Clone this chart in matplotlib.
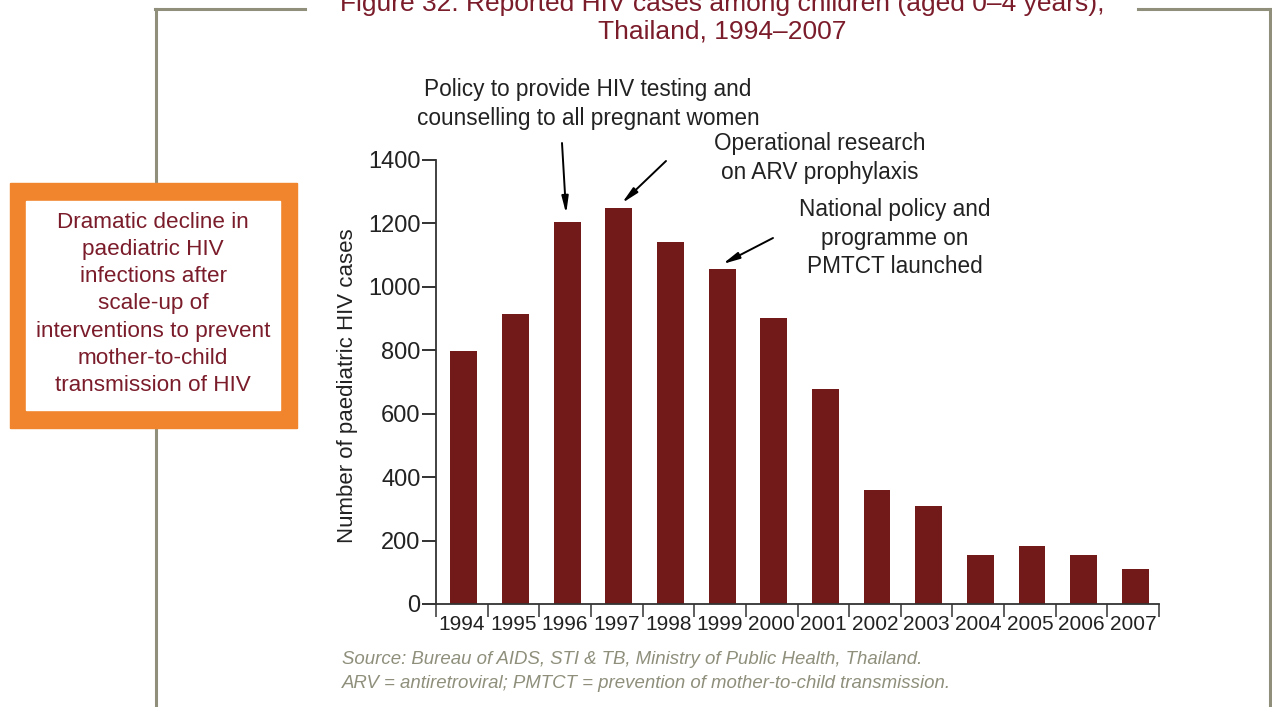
import matplotlib
matplotlib.use('Agg')
import matplotlib.pyplot as plt
from matplotlib.patches import Rectangle
from matplotlib.lines import Line2D

plt.rcParams['font.family'] = ['Liberation Sans', 'DejaVu Sans']

years = ['1994', '1995', '1996', '1997', '1998', '1999', '2000',
         '2001', '2002', '2003', '2004', '2005', '2006', '2007']
cases = [799, 913, 1206, 1249, 1143, 1057, 903, 677, 358, 310, 156, 183, 153, 109]
y_ticks = [0, 200, 400, 600, 800, 1000, 1200, 1400]

title_color = '#7b1c2b'
bar_color = '#721a1a'
frame_color = '#8f8f7c'

W, H = 1272, 707
fig = plt.figure(figsize=(W / 100, H / 100), dpi=100)

def fx(px):
    return px / W

def fy(py):
    return 1 - py / H

# grey frame round the figure, with a gap for the title
for xs, ys in [([155, 305], [9, 9]), ([1138, 1270], [9, 9]),
               ([156, 156], [9, 707]), ([1270, 1270], [9, 707])]:
    fig.add_artist(Line2D([fx(x) for x in xs], [fy(y) for y in ys],
                          color=frame_color, lw=2.2, transform=fig.transFigure, zorder=0))

# title (first line cut by the top edge, as in the source page)
fig.text(fx(722), fy(4), 'Figure 32: Reported HIV cases among children (aged 0\u20134 years),',
         ha='center', va='center', fontsize=19, color=title_color)
fig.text(fx(722), fy(31), 'Thailand, 1994\u20132007',
         ha='center', va='center', fontsize=19, color=title_color)

# bar chart
ax = fig.add_axes([fx(436), fy(604), fx(1159) - fx(436), fy(160) - fy(604)])
x = list(range(len(years)))
ax.bar([i + 0.04 for i in x], cases, width=0.52, color=bar_color, zorder=2)
ax.set_xlim(-0.5, len(years) - 0.5)
ax.set_ylim(0, 1400)
ax.set_yticks(y_ticks)
ax.set_xticks(x)
ax.set_xticklabels(years)
ax.set_xticks([i - 0.5 for i in range(len(years) + 1)], minor=True)
ax.tick_params(axis='x', which='major', length=0, labelsize=15, pad=8, colors='#222222')
ax.tick_params(axis='x', which='minor', length=9, width=1.1, direction='out', colors='#333333')
ax.tick_params(axis='y', length=10, width=1.3, labelsize=17, pad=1, colors='#222222')
for s in ['top', 'right']:
    ax.spines[s].set_visible(False)
for s in ['left', 'bottom']:
    ax.spines[s].set_color('#333333')
    ax.spines[s].set_linewidth(1.3)

fig.text(fx(348), fy(386), 'Number of paediatric HIV cases', rotation=90,
         ha='center', va='center', fontsize=16, color='#222222')

# annotations with arrows
arrow = dict(arrowstyle='-|>,head_length=1.0,head_width=0.2', color='black',
             lw=1.4, shrinkA=0, shrinkB=0)
ax.annotate('', xy=(2.02, cases[2] + 25), xytext=(562, H - 143),
            textcoords='figure pixels', arrowprops=arrow)
ax.annotate('', xy=(3.1, cases[3] + 15), xytext=(666, H - 161),
            textcoords='figure pixels', arrowprops=arrow)
ax.annotate('', xy=(5.05, cases[5] + 15), xytext=(773, H - 238),
            textcoords='figure pixels', arrowprops=arrow)

note_kw = dict(ha='center', va='center', fontsize=16.3, linespacing=1.3, color='#222222')
fig.text(fx(588), fy(104), 'Policy to provide HIV testing and\ncounselling to all pregnant women', **note_kw)
fig.text(fx(820), fy(158), 'Operational research\non ARV prophylaxis', **note_kw)
fig.text(fx(895), fy(238), 'National policy and\nprogramme on\nPMTCT launched', **note_kw)

# orange call-out box
fig.add_artist(Rectangle((fx(10), fy(428)), fx(297) - fx(10), fy(183) - fy(428),
                         transform=fig.transFigure, color='#f0852d', zorder=3))
fig.add_artist(Rectangle((fx(26), fy(410)), fx(280) - fx(26), fy(201) - fy(410),
                         transform=fig.transFigure, color='white', zorder=4))
fig.text(fx(153), fy(304),
         'Dramatic decline in\npaediatric HIV\ninfections after\nscale-up of\n'
         'interventions to prevent\nmother-to-child\ntransmission of HIV',
         ha='center', va='center', fontsize=16.2, linespacing=1.38,
         color=title_color, zorder=5)

# source note
fig.text(fx(342), fy(660), 'Source: Bureau of AIDS, STI & TB, Ministry of Public Health, Thailand.',
         ha='left', va='center', fontsize=13.4, style='italic', color=frame_color)
fig.text(fx(342), fy(684), 'ARV = antiretroviral; PMTCT = prevention of mother-to-child transmission.',
         ha='left', va='center', fontsize=13.4, style='italic', color=frame_color)

fig.savefig('out.png', dpi=100)
